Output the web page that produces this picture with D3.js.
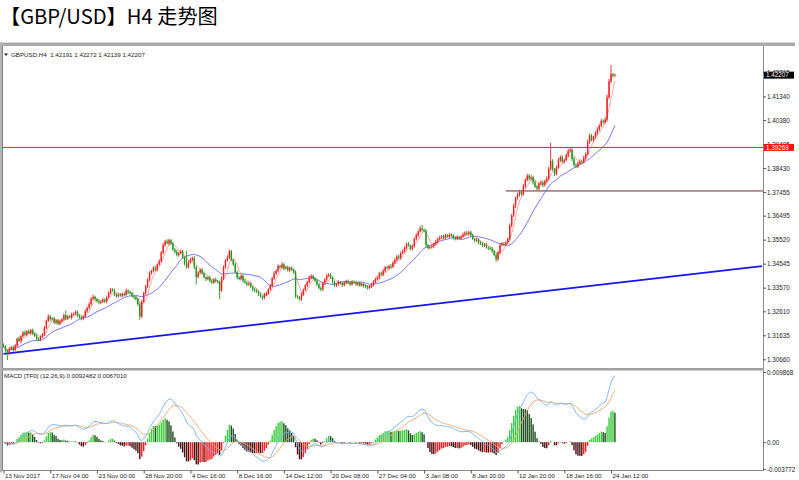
<!DOCTYPE html>
<html><head><meta charset="utf-8">
<script src="https://cdn.jsdelivr.net/npm/d3@7/dist/d3.min.js"></script>
<style>body{margin:0;background:#fff;}svg{display:block;}</style>
</head><body>
<svg id="c" width="799" height="480"></svg>
<script>
// ---------- DATA ----------
const firstOpen = 1.3125;
const closes = [
1.3118,1.3102,1.3090,1.3108,1.3115,1.3104,1.3122,1.3150,1.3141,1.3160,
1.3175,1.3166,1.3180,1.3172,1.3185,1.3170,1.3162,1.3150,1.3145,1.3158,
1.3168,1.3195,1.3222,1.3240,1.3228,1.3232,1.3215,1.3224,1.3210,1.3220,
1.3228,1.3245,1.3232,1.3240,1.3236,1.3248,1.3252,1.3258,1.3244,1.3236,
1.3232,1.3240,1.3262,1.3275,1.3290,1.3312,1.3320,1.3310,1.3302,1.3296,
1.3300,1.3308,1.3302,1.3318,1.3335,1.3350,1.3345,1.3330,1.3322,1.3328,
1.3325,1.3332,1.3328,1.3345,1.3340,1.3335,1.3322,1.3318,1.3310,1.3290,
1.3240,1.3300,1.3335,1.3362,1.3390,1.3415,1.3425,1.3438,1.3430,1.3452,
1.3465,1.3500,1.3530,1.3545,1.3538,1.3550,1.3536,1.3512,1.3502,1.3490,
1.3498,1.3505,1.3480,1.3455,1.3440,1.3462,1.3470,1.3478,1.3440,1.3400,
1.3418,1.3430,1.3415,1.3400,1.3392,1.3398,1.3385,1.3378,1.3390,1.3384,
1.3380,1.3345,1.3395,1.3440,1.3468,1.3480,1.3505,1.3470,1.3452,1.3420,
1.3398,1.3392,1.3405,1.3385,1.3378,1.3370,1.3374,1.3360,1.3350,1.3345,
1.3340,1.3330,1.3322,1.3315,1.3328,1.3335,1.3350,1.3365,1.3395,1.3415,
1.3425,1.3445,1.3440,1.3452,1.3435,1.3440,1.3428,1.3436,1.3430,1.3420,
1.3322,1.3318,1.3310,1.3330,1.3348,1.3365,1.3380,1.3398,1.3405,1.3395,
1.3385,1.3370,1.3355,1.3350,1.3375,1.3390,1.3405,1.3410,1.3398,1.3380,
1.3366,1.3372,1.3380,1.3374,1.3368,1.3376,1.3384,1.3378,1.3370,1.3382,
1.3378,1.3370,1.3375,1.3366,1.3372,1.3365,1.3360,1.3356,1.3362,1.3370,
1.3380,1.3392,1.3400,1.3415,1.3410,1.3425,1.3440,1.3436,1.3445,1.3442,
1.3458,1.3470,1.3484,1.3478,1.3498,1.3505,1.3520,1.3535,1.3528,1.3515,
1.3525,1.3555,1.3570,1.3585,1.3598,1.3592,1.3588,1.3530,1.3518,1.3522,
1.3526,1.3535,1.3545,1.3555,1.3560,1.3566,1.3560,1.3570,1.3565,1.3572,
1.3568,1.3560,1.3555,1.3562,1.3558,1.3565,1.3574,1.3580,1.3576,1.3582,
1.3570,1.3555,1.3548,1.3552,1.3540,1.3535,1.3528,1.3532,1.3520,1.3518,
1.3515,1.3505,1.3490,1.3472,1.3500,1.3530,1.3536,1.3532,1.3540,1.3555,
1.3610,1.3650,1.3690,1.3722,1.3735,1.3745,1.3738,1.3770,1.3795,1.3812,
1.3800,1.3806,1.3785,1.3768,1.3760,1.3780,1.3785,1.3775,1.3790,1.3800,
1.3840,1.3872,1.3838,1.3820,1.3845,1.3875,1.3888,1.3870,1.3876,1.3895,
1.3912,1.3918,1.3880,1.3855,1.3850,1.3862,1.3870,1.3868,1.3885,1.3900,
1.3950,1.3975,1.3958,1.3968,1.3985,1.4000,1.4015,1.4035,1.4030,1.4040,
1.4130,1.4195,1.4225,1.42191,1.42207];
const upperWickPips = [
6,5,4,8,5,7,6,4,9,5, 6,8,5,7,4,6,5,8,6,5, 4,6,5,9,6,5,7,4,6,8, 5,7,20,6,5,8,4,7,6,5,
6,4,7,5,8,6,9,5,6,7, 5,8,6,4,7,6,5,8,4,6, 7,5,6,8,5,6,7,4,6,5, 6,8,5,7,6,9,5,6,8,4,
7,6,8,5,9,6,5,7,6,8, 5,7,6,4,50,6,8,5,7,6, 6,5,7,8,4,6,7,5,6,8, 5,6,8,7,5,9,7,6,5,7,
6,8,5,6,7,4,6,8,5,6, 7,5,6,4,8,6,5,7,6,9, 6,7,5,8,6,5,7,6,8,5, 7,6,5,8,6,7,5,9,6,5,
6,8,5,7,6,5,8,6,7,5, 6,5,7,4,6,8,5,6,7,5, 5,7,6,8,5,6,4,7,6,5, 8,6,5,7,6,9,5,7,6,8,
6,7,5,8,6,7,5,6,8,5, 7,6,8,6,9,14,6,7,5,6, 6,5,7,6,8,5,7,6,5,8, 6,7,5,8,6,5,7,6,8,5,
7,6,5,8,6,7,5,6,7,5, 6,7,5,8,6,5,7,6,8,6, 8,7,9,6,8,7,6,9,7,8, 7,8,6,9,7,6,8,7,6,9,
8,73,7,6,8,9,7,8,6,8, 9,7,6,8,7,6,9,7,8,6, 9,8,7,6,8,9,7,8,6,9, 12,10,37,5,6.5];
const lowerWickPips = [
5,8,27,6,5,7,4,6,5,8, 6,5,7,4,8,6,5,7,6,5, 5,7,6,5,8,4,6,7,5,6, 6,5,7,6,4,8,5,6,7,5,
8,6,5,7,6,5,8,6,5,7, 6,5,7,8,5,6,4,7,6,5, 5,7,6,4,8,6,5,7,6,8, 14,6,5,7,6,8,5,6,7,5,
6,5,7,6,4,8,6,5,7,6, 7,5,6,8,6,5,7,6,8,30, 6,7,5,6,8,5,7,6,5,7, 6,35,5,7,6,5,8,6,7,5,
7,5,6,8,5,7,6,5,8,6, 5,7,6,8,5,6,7,5,6,7, 6,5,7,6,8,5,6,7,5,6, 8,6,5,7,6,5,7,6,8,5,
6,7,5,8,6,5,7,6,5,7, 5,6,7,5,8,6,5,7,6,5, 6,5,7,6,5,8,6,7,5,6, 7,6,5,8,6,5,7,6,5,8,
6,5,7,6,8,5,6,7,5,6, 7,5,6,8,5,7,6,9,6,5, 6,7,5,8,6,5,7,6,5,7, 5,8,6,5,7,6,5,8,6,7,
6,5,7,6,8,5,7,6,5,8, 6,7,5,10,6,8,5,7,6,5, 7,8,6,9,7,8,6,7,8,6, 8,7,9,6,8,7,6,9,7,8,
7,8,6,9,7,6,8,7,9,6, 8,7,9,6,8,7,6,9,7,8, 6,8,7,9,6,8,7,6,9,7, 8,6,7,8,5.2];

const priceTickLabels = ["1.30660","1.31635","1.32610","1.33570","1.34545","1.35520","1.36495",
  "1.37455","1.38430","1.39405","1.40380","1.41340","1.42315"];
const timeLabels = ["13 Nov 2017","17 Nov 04:00","23 Nov 00:00","28 Nov 20:00","4 Dec 16:00",
  "8 Dec 16:00","14 Dec 12:00","20 Dec 08:00","27 Dec 04:00","3 Jan 08:00","8 Jan 20:00",
  "12 Jan 20:00","18 Jan 16:00","24 Jan 12:00"];
const timeLabelIndex = [0,24,48,72,96,120,144,168,192,216,240,264,288,312];
const resistanceLevel = 1.39269, resistanceLabel = "1.39269";
const supportLevel = 1.3750, supportStartIndex = 258;
const trendIndex = [0, 389.5], trendPrice = [1.3088, 1.3445];
const lastPrice = 1.42207, lastPriceLabel = "1.42207";
const macdTickValues = [0.009868, 0, -0.003772];
const macdTickLabels = ["0.009868","0.00","-0.003772"];
const headerText = "GBPUSD,H4  1.42191 1.42272 1.42139 1.42207";
const macdText = "MACD [TF0] (12,26,9) 0.0092482 0.0067010";
const titleText = "【GBP/USD】H4 走势图";

// ---------- derived bars ----------
const bars = closes.map((c,i)=>{
  const o = i===0 ? firstOpen : closes[i-1];
  return {i, o, c, h: Math.max(o,c)+upperWickPips[i]/10000, l: Math.min(o,c)-lowerWickPips[i]/10000};
});
function sma(arr,n){return arr.map((v,i)=>{const s=arr.slice(Math.max(0,i-n+1),i+1);return d3.mean(s);});}
function ema(arr,n){const k=2/(n+1);let e=arr[0];return arr.map((v,i)=>{if(i>0)e=v*k+e*(1-k);return e;});}
const maSlow = sma(closes,20), maFast = sma(closes,5);
const e12 = ema(closes,12), e26 = ema(closes,26);
const dif = e12.map((v,i)=>v-e26[i]);
const dea = ema(dif,9);
const hist = dif.map((v,i)=>2*(v-dea[i]));

// ---------- scales ----------
const svg = d3.select("#c");
const L=3, R=763, T=47, B=368, MT=371, MB=470.5;
const x = d3.scaleLinear().domain([0,312]).range([3.5,611]);
const y = d3.scaleLinear().domain([1.30306,1.43350]).range([B,T]);
const ym = d3.scaleLinear().domain([-0.003772,0.009868]).range([469,372]);
const FONT = "'Liberation Sans', Arial, sans-serif";

// title
svg.append("text").attr("x",0).attr("y",23.5).attr("font-family","'Noto Sans CJK SC', sans-serif")
  .attr("font-size",20.2).attr("fill","#000").text(titleText);

// frame
svg.append("rect").attr("x",0).attr("y",42.5).attr("width",795).attr("height",3.5).attr("fill","#ababab");
svg.append("rect").attr("x",0).attr("y",42.5).attr("width",2).attr("height",430).attr("fill","#b5b5b5");
svg.append("line").attr("x1",2.5).attr("x2",2.5).attr("y1",46).attr("y2",471).attr("stroke","#808080").attr("stroke-width",1);
svg.append("line").attr("x1",R+0.5).attr("x2",R+0.5).attr("y1",46).attr("y2",471).attr("stroke","#8a8a8a").attr("stroke-width",1);
svg.append("rect").attr("x",2).attr("y",B).attr("width",R-2+1).attr("height",2.5).attr("fill","#a0a0a0");
svg.append("line").attr("x1",2).attr("x2",R+1).attr("y1",MB).attr("y2",MB).attr("stroke","#8a8a8a");

const defs = svg.append("defs");
defs.append("clipPath").attr("id","cm").append("rect").attr("x",L).attr("y",T).attr("width",R-L).attr("height",B-T);
defs.append("clipPath").attr("id","cd").append("rect").attr("x",L).attr("y",MT).attr("width",R-L).attr("height",MB-MT);

const gm = svg.append("g").attr("clip-path","url(#cm)");
// horizontal levels
gm.append("line").attr("x1",L).attr("x2",R).attr("y1",y(resistanceLevel)).attr("y2",y(resistanceLevel))
  .attr("stroke","#e82020").attr("stroke-width",1);
gm.append("line").attr("x1",x(supportStartIndex)).attr("x2",R).attr("y1",y(supportLevel)).attr("y2",y(supportLevel))
  .attr("stroke","#702828").attr("stroke-width",1);
// trendline
gm.append("line").attr("x1",x(trendIndex[0])).attr("x2",x(trendIndex[1]))
  .attr("y1",y(trendPrice[0])).attr("y2",y(trendPrice[1])).attr("stroke","#1414f0").attr("stroke-width",1.8);
// moving averages
const line = d3.line().x((d,i)=>x(i)).y(d=>y(d));
gm.append("path").attr("d",line(maSlow)).attr("fill","none").attr("stroke","#6464ff").attr("stroke-width",0.9);
gm.append("path").attr("d",line(maFast)).attr("fill","none").attr("stroke","#ff8a8a").attr("stroke-width",0.8);
// candles
const UP="#f42020", DN="#1f9a1f";
const cg = gm.append("g");
cg.selectAll("line.w").data(bars).join("line").attr("class","w")
  .attr("x1",d=>x(d.i)).attr("x2",d=>x(d.i)).attr("y1",d=>y(d.h)).attr("y2",d=>y(d.l))
  .attr("stroke",d=>d.c>=d.o?UP:DN).attr("stroke-width",0.9);
cg.selectAll("rect.b").data(bars).join("rect").attr("class","b")
  .attr("x",d=>x(d.i)-0.7).attr("width",1.4)
  .attr("y",d=>y(Math.max(d.o,d.c))).attr("height",d=>Math.max(0.8,Math.abs(y(d.o)-y(d.c))))
  .attr("fill",d=>d.c>=d.o?UP:DN);

// price axis
const pa = d3.axisRight(y).tickValues(priceTickLabels.map(Number)).tickSize(3).tickPadding(1)
  .tickFormat((d,i)=>priceTickLabels[i]);
const gpa = svg.append("g").attr("transform",`translate(${R},0)`).call(pa);
gpa.select(".domain").remove();
gpa.selectAll("line").attr("stroke","#555");
gpa.selectAll("text").attr("font-family",FONT).attr("font-size",6.3).attr("fill","#222");
// value boxes
function valueBox(v,label,fill){
  const yy=y(v);
  svg.append("rect").attr("x",R+1).attr("y",yy-3.5).attr("width",30).attr("height",7).attr("fill",fill);
  svg.append("text").attr("x",R+3).attr("y",yy).attr("dy","0.33em").attr("font-family",FONT)
    .attr("font-size",6.3).attr("fill","#fff").text(label);
}
valueBox(lastPrice,lastPriceLabel,"#000");
valueBox(resistanceLevel,resistanceLabel,"#ff1010");

// header
svg.append("path").attr("d","M4,53.5 L8,53.5 L6,56 Z").attr("fill","#222");
svg.append("text").attr("x",11).attr("y",57).attr("font-family",FONT).attr("font-size",6.2)
  .attr("fill","#222").attr("xml:space","preserve").style("white-space","pre").text(headerText);

// MACD
const gd = svg.append("g").attr("clip-path","url(#cd)");
gd.selectAll("rect").data(hist).join("rect")
  .attr("x",(d,i)=>x(i)-0.7).attr("width",1.4)
  .attr("y",d=>d>=0?ym(d):ym(0)).attr("height",d=>Math.abs(ym(d)-ym(0)))
  .attr("fill",(d,i)=>{const up = i===0 ? true : d>=hist[i-1];
     if(d>=0) return up?"#3ccc3c":"#1f4f1f"; return up?"#ff1c1c":"#4a1212";});
const lm = d3.line().x((d,i)=>x(i)).y(d=>ym(d));
gd.append("path").attr("d",lm(dea)).attr("fill","none").attr("stroke","#f3a46e").attr("stroke-width",0.9);
gd.append("path").attr("d",lm(dif)).attr("fill","none").attr("stroke","#74b2f4").attr("stroke-width",0.9);
svg.append("text").attr("x",4).attr("y",378).attr("font-family",FONT).attr("font-size",6.2)
  .attr("fill","#222").text(macdText);
const ma = d3.axisRight(ym).tickValues(macdTickValues).tickSize(3).tickPadding(1)
  .tickFormat((d,i)=>macdTickLabels[i]);
const gma = svg.append("g").attr("transform",`translate(${R},0)`).call(ma);
gma.select(".domain").remove();
gma.selectAll("line").attr("stroke","#555");
gma.selectAll("text").attr("font-family",FONT).attr("font-size",6.3).attr("fill","#222");

// time axis
const ta = d3.axisBottom(x).tickValues(timeLabelIndex).tickSize(3).tickPadding(1)
  .tickFormat((d,i)=>timeLabels[i]);
const gta = svg.append("g").attr("transform",`translate(0,${MB})`).call(ta);
gta.select(".domain").remove();
gta.selectAll("line").attr("stroke","#555");
gta.selectAll("text").attr("font-family",FONT).attr("font-size",6.2).attr("fill","#222")
  .attr("text-anchor","start").attr("dx",1).attr("y",3).attr("dy","0.75em");
</script>
</body></html>
